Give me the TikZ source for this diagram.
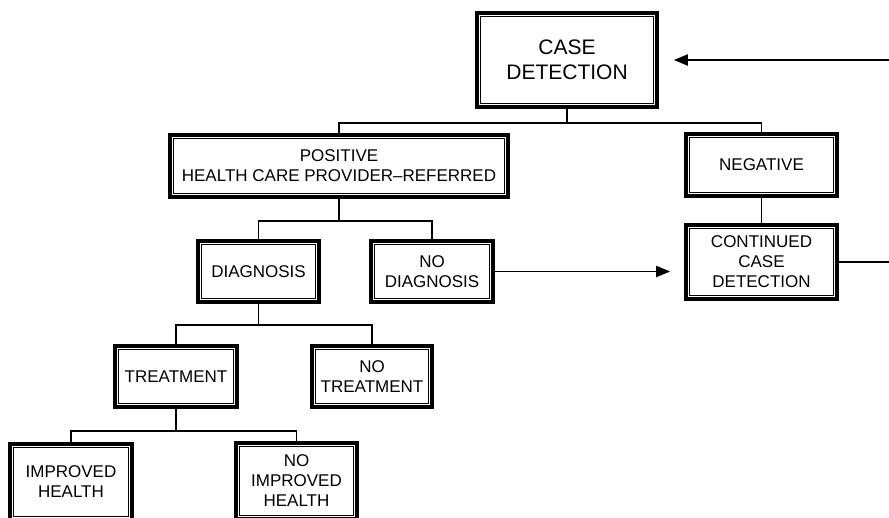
\documentclass[tikz,border=0pt]{standalone}
\usepackage{fontspec}
\setmainfont{Liberation Sans}
\usepackage{tikz}
\usetikzlibrary{arrows.meta}

\tikzset{
    framebox/.style={draw, line width=3.6pt, inner sep=0pt, align=center,
        font=\fontsize{17}{20}\selectfont,
        path picture={\draw[line width=1pt]
            ([shift={(3.5pt,-3.5pt)}]path picture bounding box.north west) rectangle
            ([shift={(-3.5pt,3.5pt)}]path picture bounding box.south east);}},
    link/.style={line width=1.9pt},
    pointer/.style={line width=1.9pt, -{Triangle[length=14pt,width=11pt]}}
}

\begin{document}
\begin{tikzpicture}[x=1pt, y=-1pt]
            \useasboundingbox (0,0) rectangle (889,517);

            \node[framebox, minimum width=180pt, minimum height=94pt,
                font=\fontsize{21}{25}\selectfont] (case) at (567, 60) {CASE\\DETECTION};
            \node[framebox, minimum width=338pt, minimum height=62pt] (pos) at (339, 166)
                {POSITIVE\\HEALTH CARE PROVIDER--REFERRED};
            \node[framebox, minimum width=151pt, minimum height=62pt] (neg) at (761.5, 165) {NEGATIVE};
            \node[framebox, minimum width=151pt, minimum height=74pt] (cont) at (761.5, 262)
                {CONTINUED\\CASE\\DETECTION};
            \node[framebox, minimum width=121pt, minimum height=61pt] (diag) at (258.5, 271.5) {DIAGNOSIS};
            \node[framebox, minimum width=122pt, minimum height=61pt] (nodiag) at (432, 271.5) {NO\\DIAGNOSIS};
            \node[framebox, minimum width=122pt, minimum height=61pt] (treat) at (176, 376.5) {TREATMENT};
            \node[framebox, minimum width=120pt, minimum height=61pt] (notreat) at (372, 376.5) {NO\\TREATMENT};
            \node[framebox, minimum width=122pt, minimum height=76pt] (imp) at (71, 482) {IMPROVED\\HEALTH};
            \node[framebox, minimum width=121pt, minimum height=76pt] (noimp) at (296.5, 481)
                {NO\\IMPROVED\\HEALTH};

            \coordinate (loopin) at (889, 60);
            \coordinate (loopout) at (889, 262);

            \draw[link] (case.south) -- ++(0, 14) -| (pos.north);
            \draw[link] (case.south) -- ++(0, 14) -| (neg.north);
            \draw[link] (pos.south) -- ++(0, 22) -| (diag.north);
            \draw[link] (pos.south) -- ++(0, 22) -| (nodiag.north);
            \draw[link] (diag.south) -- ++(0, 21) -| (treat.north);
            \draw[link] (diag.south) -- ++(0, 21) -| (notreat.north);
            \draw[link] (treat.south) -- ++(0, 22) -| (imp.north);
            \draw[link] (treat.south) -- ++(0, 22) -| (noimp.north);
            \draw[link] (neg.south) -- (cont.north);

            \draw[pointer, shorten >=14pt] (nodiag.east) -- (nodiag.east -| cont.west);
            \draw[link] (cont.east) -- (loopout);
            \draw[pointer, shorten >=15pt] (loopin) -- (case.east);
        \end{tikzpicture}
\end{document}
